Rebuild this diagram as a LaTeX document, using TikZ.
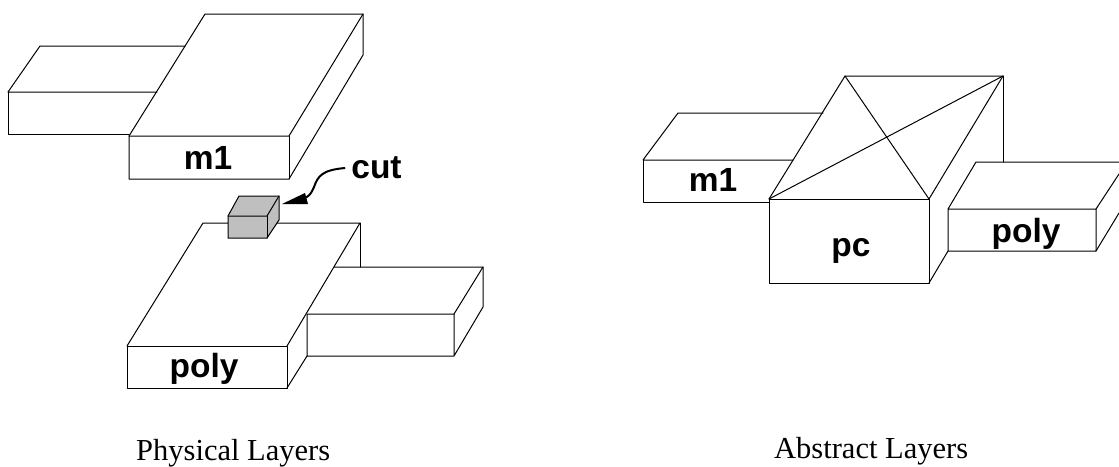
\documentclass[tikz,border=0pt]{standalone}
\usepackage{fontspec}
\setmainfont{Liberation Serif}
\newfontfamily\lblfont{Liberation Sans}
\usetikzlibrary{arrows.meta}
\tikzset{
  edge/.style={draw=black,line width=1pt,line join=round,line cap=round},
  lbl/.style={font=\lblfont\fontsize{33.5}{33.5}\selectfont\bfseries,inner sep=0pt,anchor=base},
  captiontext/.style={font=\fontsize{30.5}{30.5}\selectfont,inner sep=0pt,anchor=base west}
}
\begin{document}
\begin{tikzpicture}[x=1pt,y=-1pt]
\useasboundingbox (0,0) rectangle (1119,466);
% physical m1
\draw[edge] (157,92) -- (8,92) -- (40,46) -- (185,46);
\draw[edge] (8,92) -- (8,134) -- (129,134);
\draw[edge] (129,136) -- (205,14) -- (363,14) -- (363,55) -- (289,179) -- (129,179) -- cycle;
\draw[edge] (129,136) -- (289,136) -- (363,14);
\draw[edge] (289,136) -- (289,179);
\node[lbl] (m1a) at (208,169) {m1};
% physical poly
\draw[edge] (127,346) -- (203,223) -- (360,223) -- (287,346);
\draw[edge] (360,223) -- (360,267);
\draw[edge] (127,346) -- (287,346) -- (287,388) -- (127,388) -- cycle;
\draw[edge] (287,388) -- (307,356);
\draw[edge] (334,267) -- (483,267) -- (483,307) -- (454,356) -- (307,356) -- (307,314) -- (454,314) -- (454,356);
\draw[edge] (454,314) -- (483,267);
\node[lbl] (polya) at (204,377) {poly};
% cut cube
\draw[edge,fill=black!25] (228,216) -- (239,196) -- (279,196) -- (279,220) -- (267,238) -- (228,238) -- cycle;
\draw[edge] (228,216) -- (267,216) -- (279,196);
\draw[edge] (267,216) -- (267,238);
\node[lbl] (cuttxt) at (376.5,178) {cut};
\coordinate (cuttip) at (282,204);
\coordinate (cutbase) at (305,198);
\draw[line width=2pt] (cuttxt.west |- 0,168) ++(-6,0) .. controls (322,170) and (318,176) .. (314,187) .. controls (311,194) and (309,196) .. (cutbase);
\fill[black] (cuttip) -- (305,193) -- (308,204) -- cycle;
% abstract m1
\draw[edge] (823,113) -- (678,113) -- (643,160) -- (793,160);
\draw[edge] (643,160) -- (643,202) -- (769,202);
\node[lbl] (m1b) at (713,191) {m1};
% abstract pc
\draw[edge] (769,199) -- (845,76) -- (1003,76) -- (929,199);
\draw[edge] (1003,76) -- (1003,162);
\draw[edge] (769,199) -- (929,199) -- (929,283) -- (769,283) -- cycle;
\draw[edge] (845,76) -- (929,199);
\draw[edge] (769,199) -- (1003,76);
\draw[edge] (929,283) -- (948,251);
\node[lbl] (pcb) at (851,256) {pc};
% abstract poly
\draw[edge] (1119,162) -- (976,162) -- (948,209) -- (1096,209) -- (1096,251) -- (948,251) -- (948,209);
\draw[edge] (1096,209) -- (1119,174);
\draw[edge] (1096,251) -- (1119,213);
\node[lbl] (polyb) at (1026,242) {poly};
% captions
\node[captiontext] (capl) at (136,460) {Physical Layers};
\node[captiontext] (capr) at (774,458) {Abstract Layers};
\end{tikzpicture}
\end{document}
